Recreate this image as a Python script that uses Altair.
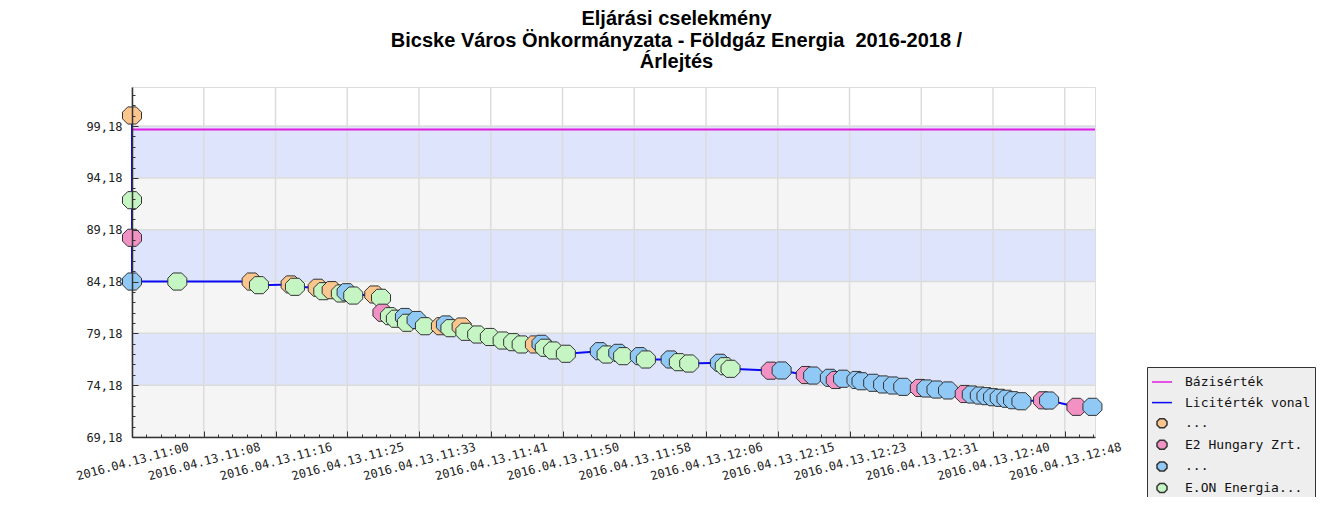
import json
import altair as alt
import pandas as pd

# ---------------- data ----------------
title_lines = [
    "Eljárási cselekmény",
    "Bicske Város Önkormányzata - Földgáz Energia\u00a0 2016-2018 /",
    "Árlejtés",
]

series_names = ["Bázisérték", "Licitérték vonal", "...", "E2 Hungary Zrt.", "... ", "E.ON Energia..."]
series_fill = ["#E21DE2", "#0A0AF5", "#FBC68E", "#F291C3", "#90C8F6", "#C6F5C4"]
series_stroke = ["#E21DE2", "#0A0AF5", "#333333", "#333333", "#333333", "#333333"]

bidder_names = {"O": "...", "P": "E2 Hungary Zrt.", "B": "... ", "G": "E.ON Energia..."}

base_value = 98.85  # Bázisérték

bid_times = [
    "11:00:00", "11:00:00", "11:00:00", "11:00:00", "11:05:15", "11:13:51", "11:14:42",
    "11:18:22", "11:18:52", "11:21:30", "11:22:09", "11:23:07", "11:24:11", "11:24:51",
    "11:25:37", "11:28:03", "11:28:50", "11:29:00", "11:29:52", "11:30:33", "11:31:36",
    "11:31:50", "11:32:57", "11:33:55", "11:35:46", "11:36:21", "11:36:52", "11:38:10",
    "11:38:36", "11:39:58", "11:41:26", "11:42:55", "11:44:08", "11:45:07", "11:46:39",
    "11:47:25", "11:47:48", "11:48:46", "11:50:14", "11:54:10", "11:54:57", "11:56:18",
    "11:56:52", "11:58:48", "11:59:30", "12:02:22", "12:03:19", "12:04:31", "12:08:04",
    "12:08:38", "12:09:18", "12:13:58", "12:15:13", "12:18:01", "12:18:52", "12:20:48",
    "12:21:29", "12:22:20", "12:23:53", "12:24:28", "12:25:49", "12:26:58", "12:28:07",
    "12:29:18", "12:31:13", "12:31:59", "12:33:09", "12:34:29", "12:36:25", "12:37:14",
    "12:38:10", "12:38:56", "12:39:42", "12:40:28", "12:41:15", "12:42:01", "12:42:59",
    "12:45:29", "12:46:11", "12:49:21", "12:51:12",
]
bid_values = [
    100.20, 92.03, 88.40, 84.18, 84.18, 84.18, 83.83,
    83.90, 83.67, 83.58, 83.25, 83.35, 83.03, 83.15,
    82.83, 82.93, 82.61, 81.17, 80.84, 80.59, 80.76,
    80.20, 80.47, 79.87, 79.87, 80.04, 79.68, 79.84,
    79.33, 79.07, 78.83, 78.49, 78.33, 78.11, 78.11,
    78.17, 77.79, 77.53, 77.21, 77.46, 77.14, 77.30,
    76.98, 76.98, 76.66, 76.66, 76.40, 76.27, 76.34,
    76.01, 75.76, 75.58, 75.60, 75.16, 75.11, 74.89,
    74.68, 74.80, 74.68, 74.56, 74.41, 74.25, 74.15,
    74.02, 73.91, 73.86, 73.76, 73.67, 73.33, 73.28,
    73.18, 73.12, 73.02, 72.96, 72.87, 72.73, 72.63,
    72.72, 72.70, 72.09, 72.09,
]
bid_bidders = [
    "O", "G", "P", "B", "G", "O", "G",
    "O", "G", "O", "G", "O", "G", "B",
    "G", "O", "G", "P", "G", "G", "B",
    "G", "B", "G", "O", "B", "G", "O",
    "G", "G", "G", "G", "G", "G", "O",
    "B", "G", "G", "G", "B", "G", "B",
    "G", "B", "G", "B", "G", "G", "B",
    "G", "G", "P", "B", "P", "B", "B",
    "P", "B", "B", "B", "B", "B", "B",
    "B", "P", "B", "B", "B", "P", "B",
    "B", "B", "B", "B", "B", "B", "B",
    "P", "B", "P", "B",
]

x_tick_labels = [
    "2016.04.13.11:00", "2016.04.13.11:08", "2016.04.13.11:16", "2016.04.13.11:25",
    "2016.04.13.11:33", "2016.04.13.11:41", "2016.04.13.11:50", "2016.04.13.11:58",
    "2016.04.13.12:06", "2016.04.13.12:15", "2016.04.13.12:23", "2016.04.13.12:31",
    "2016.04.13.12:40", "2016.04.13.12:48",
]
y_tick_labels = ["69,18", "74,18", "79,18", "84,18", "89,18", "94,18", "99,18"]
band_edges = [69.18, 74.18, 79.18, 84.18, 89.18, 94.18, 99.18]
band_colors = ["#F5F5F5", "#DDE4FB", "#F5F5F5", "#DDE4FB", "#F5F5F5", "#DDE4FB"]

axis_start = "11:00:00"
axis_end = "12:51:30"
last_label_time = "12:48:00"
y_min, y_max = 69.18, 102.95

W, H = 963, 350


def minutes(t):
    h, m, s = (int(p) for p in t.split(":"))
    h0, m0, s0 = (int(p) for p in axis_start.split(":"))
    return (h * 60 + m + s / 60) - (h0 * 60 + m0 + s0 / 60)


x_lo, x_hi = 0.0, minutes(axis_end)
x_step = minutes(last_label_time) / (len(x_tick_labels) - 1)
x_major = [i * x_step for i in range(len(x_tick_labels))]
x_minor = [i * x_step / 5 for i in range(int(x_hi / (x_step / 5)) + 1)]
y_major = band_edges
y_minor = [y_min + i for i in range(int(y_max - y_min) + 1)]

bids = pd.DataFrame({
    "t": [minutes(t) for t in bid_times],
    "v": bid_values,
    "series": [bidder_names[b] for b in bid_bidders],
})
bids["idx"] = range(len(bids))
bid_line = bids.copy()
bid_line["series"] = "Licitérték vonal"

bands = pd.DataFrame({
    "lo": band_edges[:-1], "hi": band_edges[1:], "fill": band_colors,
    "x0": x_lo, "x1": x_hi,
})
base = pd.DataFrame({"v": [base_value], "x0": [x_lo], "x1": [x_hi], "series": ["Bázisérték"]})
vgrid = pd.DataFrame({"x": x_major})
hgrid = pd.DataFrame({"y": y_major})

# ---------------- axes ----------------
FONT = "DejaVu Sans Mono"
x_label_axis = alt.Axis(
    values=x_major, tickCount=len(x_major) + 5,
    labelExpr=f"{json.dumps(x_tick_labels)}[round(datum.value/{x_step})]",
    labelAngle=345, labelAlign="center", labelBaseline="middle",
    labelFont=FONT, labelFontSize=12, labelColor="#222222",
    labelPadding=24, labelOverlap=False, labelFlush=False, labelBound=False, labelLimit=400,
    ticks=False, tickSize=0, domainColor="#333333", domainWidth=1.5,
    grid=False, title="", zindex=1,
)
y_label_axis = alt.Axis(
    values=y_major, tickCount=len(y_major) + 5,
    labelExpr=f"{json.dumps(y_tick_labels)}[round((datum.value-{y_min})/5)]",
    labelFont=FONT, labelFontSize=12, labelColor="#222222",
    labelPadding=10, labelOverlap=False, labelFlush=False, labelBound=False, labelLimit=400,
    ticks=False, tickSize=0, domainColor="#333333", domainWidth=1.5,
    grid=False, title="", zindex=1,
)


def x_tick_axis(values, size):
    # a top axis moved down onto the bottom edge: its ticks point into the plot
    return alt.Axis(
        orient="top", offset=-H, values=values, tickCount=len(values) + 5,
        labels=False, domain=False, grid=False, ticks=True, tickSize=size,
        tickColor="#333333", tickWidth=1, title="", zindex=1,
    )


def y_tick_axis(values, size):
    # a right axis moved onto the left edge: its ticks point into the plot
    return alt.Axis(
        orient="right", offset=-W, values=values, tickCount=len(values) + 5,
        labels=False, domain=False, grid=False, ticks=True, tickSize=size,
        tickColor="#333333", tickWidth=1, title="", zindex=1,
    )


x_scale = alt.Scale(domain=[x_lo, x_hi], nice=False, zero=False)
y_scale = alt.Scale(domain=[y_min, y_max], nice=False, zero=False)

# half-size octagon: legend symbols come out at half the size of the line entries
octagon = "M-0.225,-0.45L0.225,-0.45L0.5,-0.175L0.5,0.175L0.225,0.45L-0.225,0.45L-0.5,0.175L-0.5,-0.175Z"
series_shapes = ["stroke", "stroke", octagon, octagon, octagon, octagon]

legend = alt.Legend(
    title="",
    orient="none", legendX=1015, legendY=280,
    direction="vertical",
    labelFont=FONT, labelFontSize=13, labelColor="#111111",
    labelOffset=12, rowPadding=2.6, padding=4,
    symbolSize=400, symbolStrokeWidth=1.5, symbolOpacity=1,
    fillColor="#EEEEEE", strokeColor="#333333",
)
fill_scale = alt.Scale(domain=series_names, range=series_fill)
stroke_scale = alt.Scale(domain=series_names, range=series_stroke)
shape_scale = alt.Scale(domain=series_names, range=series_shapes)

band_layer = alt.Chart(bands).mark_rect().encode(
    x=alt.X("x0:Q", scale=x_scale, axis=x_label_axis),
    x2="x1:Q",
    y=alt.Y("lo:Q", scale=y_scale, axis=y_label_axis),
    y2="hi:Q",
    color=alt.Color("fill:N", scale=None),
)

vgrid_layer = alt.Chart(vgrid).mark_rule(color="#DCDCDC", strokeWidth=1.5).encode(
    x=alt.X("x:Q", scale=x_scale, axis=x_tick_axis(x_major, 6)),
)
hgrid_layer = alt.Chart(hgrid).mark_rule(color="#DCDCDC", strokeWidth=1.5).encode(
    y=alt.Y("y:Q", scale=y_scale, axis=y_tick_axis(y_major, 6)),
)

base_layer = alt.Chart(base).mark_rule(strokeWidth=2).encode(
    x=alt.X("x0:Q", scale=x_scale, axis=x_tick_axis(x_minor, 3)),
    x2="x1:Q",
    y=alt.Y("v:Q", scale=y_scale, axis=y_tick_axis(y_minor, 3)),
    stroke=alt.Stroke("series:N", scale=stroke_scale, legend=legend),
)

line_layer = alt.Chart(bid_line).mark_line(strokeWidth=2).encode(
    x=alt.X("t:Q", scale=x_scale, axis=None),
    y=alt.Y("v:Q", scale=y_scale, axis=None),
    order=alt.Order("idx:Q"),
    stroke=alt.Stroke("series:N", scale=stroke_scale, legend=legend),
)

point_layer = alt.Chart(bids).mark_point(
    filled=True, size=1444, strokeWidth=1, opacity=1
).encode(
    x=alt.X("t:Q", scale=x_scale, axis=None),
    y=alt.Y("v:Q", scale=y_scale, axis=None),
    fill=alt.Fill("series:N", scale=fill_scale, legend=legend),
    stroke=alt.Stroke("series:N", scale=stroke_scale, legend=legend),
    shape=alt.Shape("series:N", scale=shape_scale, legend=legend),
)

chart = alt.layer(
    band_layer, vgrid_layer, hgrid_layer, base_layer, line_layer, point_layer
).resolve_axis(x="independent", y="independent").properties(
    width=W,
    height=H,
    autosize=alt.AutoSizeParams(type="none"),
    padding={"left": 124, "top": 79, "right": 230, "bottom": 60},
    title=alt.TitleParams(
        text=title_lines, font="Liberation Sans", fontSize=20, fontWeight="bold",
        color="#000000", anchor="middle", dx=63, offset=14, lineHeight=21.5,
    ),
).configure_view(strokeWidth=0).configure(background="white")

chart.save("out.html", embed_options={"renderer": "svg", "actions": False})
